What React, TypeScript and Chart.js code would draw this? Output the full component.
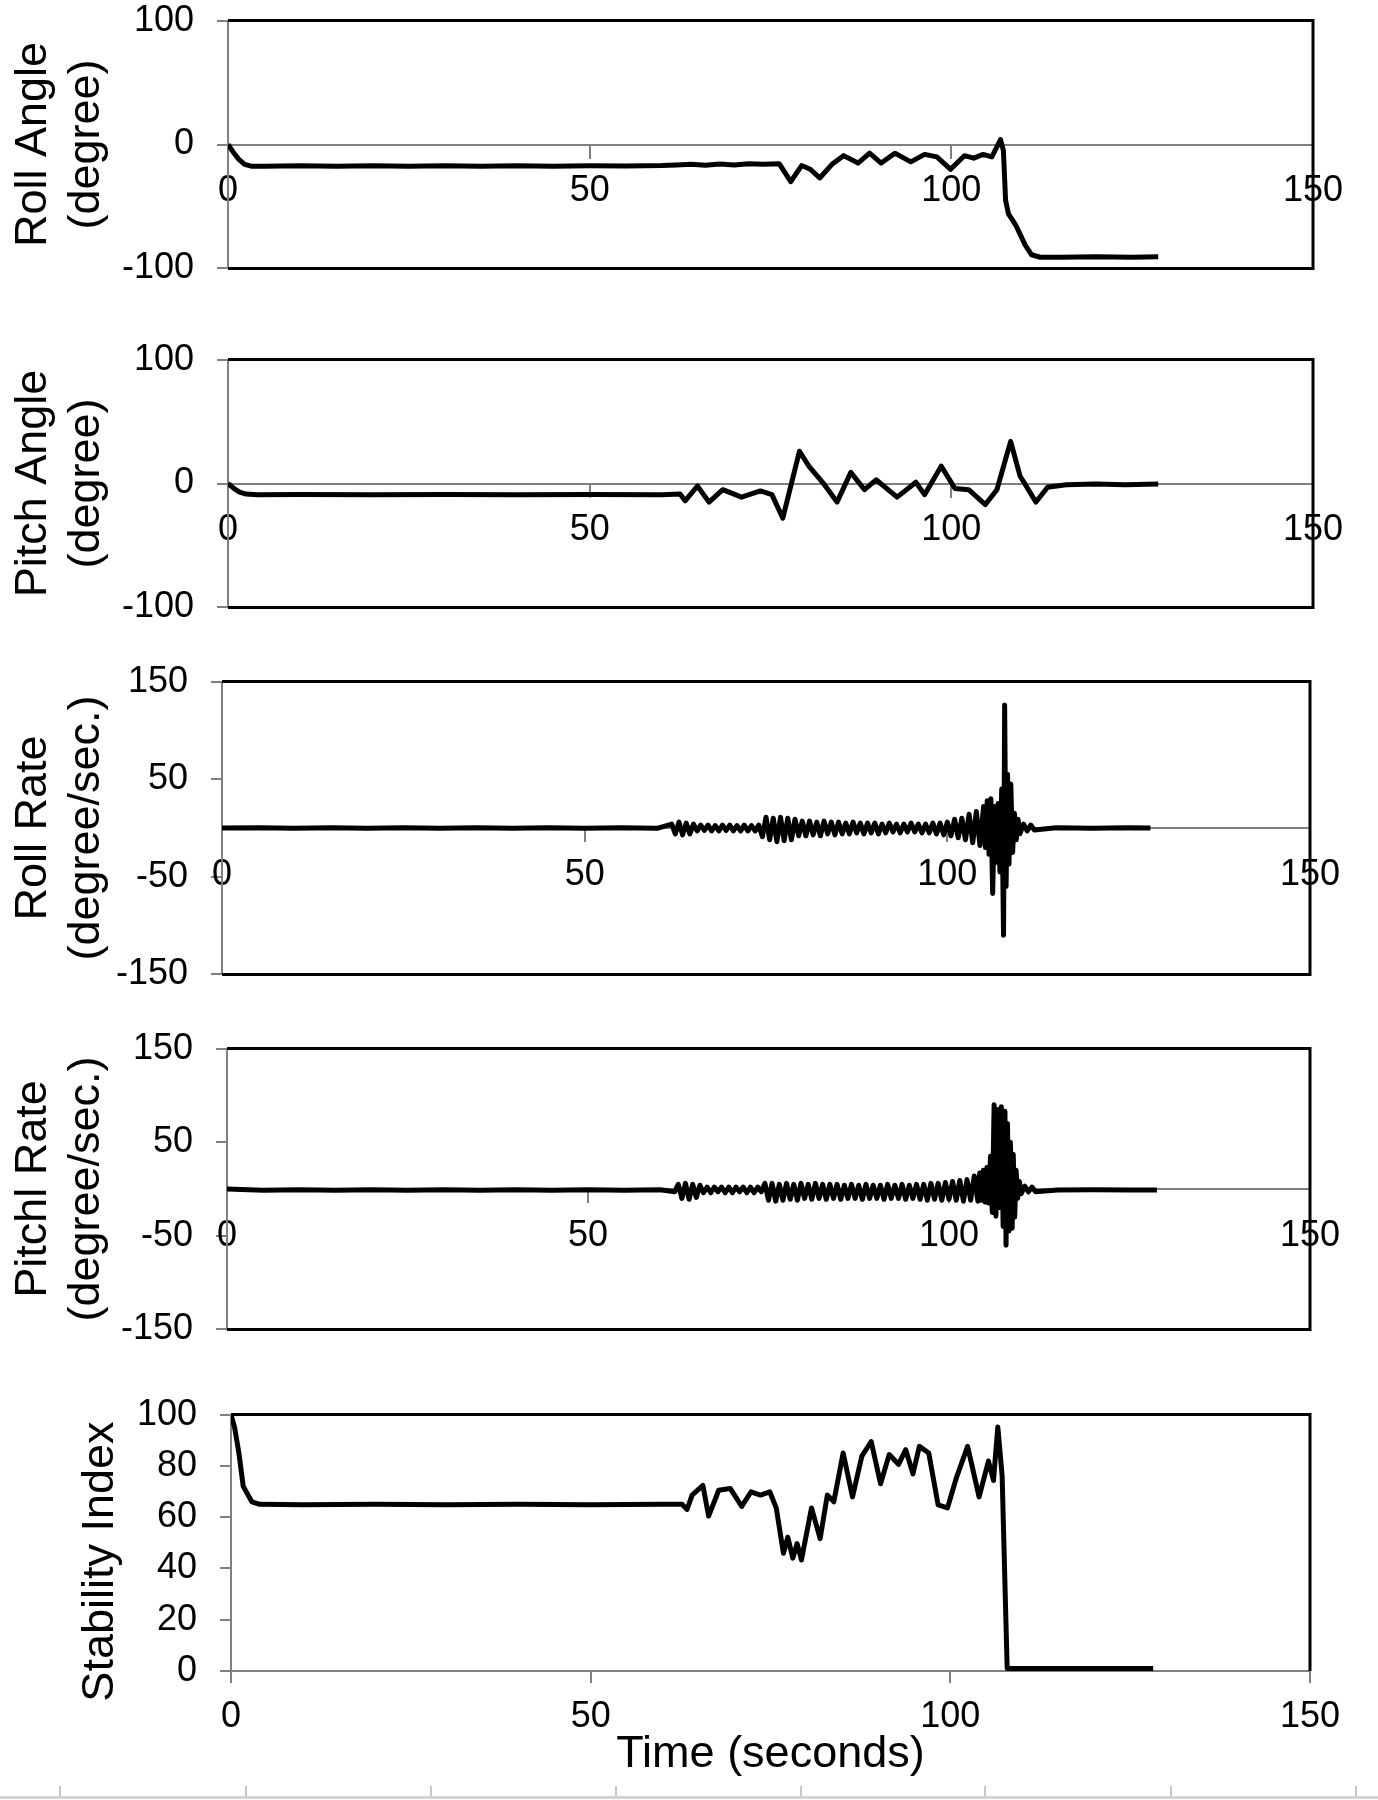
import React, { useEffect, useRef } from 'react';
import { Chart, registerables } from 'chart.js';

Chart.register(...registerables);

// ---------- data ----------
const X_TICKS = [0, 50, 100, 150];
const ANGLE_TICKS = [-100, 0, 100];
const RATE_TICKS = [-150, -50, 50, 150];
const INDEX_TICKS = [0, 20, 40, 60, 80, 100];

const TITLE_ROLL_ANGLE = ['Roll Angle', '(degree)'];
const TITLE_PITCH_ANGLE = ['Pitch Angle', '(degree)'];
const TITLE_ROLL_RATE = ['Roll Rate', '(degree/sec.)'];
const TITLE_PITCH_RATE = ['Pitchl Rate', '(degree/sec.)'];
const TITLE_INDEX = 'Stability Index   ';
const TITLE_TIME = 'Time (seconds)';

const ROLL_ANGLE: number[][] = [
  [0, 0], [0.7, -6], [1.5, -12], [2.3, -16], [3.2, -17.5], [5, -17.5], [10, -17.2], [15, -17.6], [20, -17.2],
  [25, -17.6], [30, -17.2], [35, -17.6], [40, -17.2], [45, -17.6], [50, -17.2], [55, -17.4], [60, -17],
  [62, -16.5], [64, -16], [66, -16.8], [68, -15.8], [70, -16.5], [72, -15.5], [74, -16], [76.2, -15.5],
  [77.8, -30], [79.3, -17], [80.5, -20], [81.8, -27], [83.5, -16], [85.1, -9], [87.1, -15], [88.7, -7],
  [90.3, -15], [92.2, -7], [94.4, -14], [96.3, -8], [98, -10], [99.9, -20], [101.8, -9], [103.1, -11],
  [104.4, -8], [105.6, -10], [106.8, 4], [107.2, -5], [107.5, -45], [107.9, -56], [108.9, -65],
  [110.2, -81], [111.1, -89], [112.3, -91], [115, -91], [120, -90.5], [125, -91], [128.6, -90.5],
];

const PITCH_ANGLE: number[][] = [
  [0, 0], [0.8, -4], [1.6, -7], [2.5, -8.5], [4, -9], [10, -8.8], [20, -9], [30, -8.8], [40, -9], [50, -8.8],
  [60, -9], [62.5, -8.5], [63.2, -14], [64.9, -2], [66.5, -15], [68.4, -5], [71, -11], [73.6, -6],
  [75.2, -9], [76.7, -28], [79, 26], [80.3, 14], [82.2, 1], [84.2, -15], [86.1, 9], [88, -5], [89.6, 3],
  [92.5, -11], [95.1, 1], [96.3, -9], [98.6, 14], [100.5, -4], [102.4, -5], [104.7, -17], [106.3, -5],
  [108.2, 34], [109.5, 6], [111.7, -15], [113.3, -3], [115.9, -1], [120, -0.5], [124, -1], [128.6, -0.5],
];

const ROLL_RATE: number[][] = [
  [0, 0], [5, 0.3], [10, -0.3], [15, 0.3], [20, -0.3], [25, 0.3], [30, -0.3], [35, 0.3], [40, -0.3],
  [45, 0.3], [50, -0.3], [55, 0.3], [60, -0.3],
  [62, 4], [62.5, -6], [63, 6], [63.5, -7], [64, 5], [64.5, -6], [65, 4],
  [65.5, -3], [66, 3], [66.5, -2.5], [67, 3], [67.5, -3], [68, 2.5], [68.5, -3], [69, 3], [69.5, -2.5],
  [70, 3], [70.5, -3], [71, 2.5], [71.5, -3], [72, 3], [72.5, -3], [73, 2.5], [73.5, -3], [74, 3],
  [74.5, -9], [75, 11], [75.5, -12], [76, 10], [76.5, -14], [77, 11], [77.5, -13], [78, 10], [78.5, -12], [79, 9],
  [79.5, -8], [80, 7], [80.5, -8], [81, 7], [81.5, -7], [82, 6], [82.5, -8], [83, 7], [83.5, -6], [84, 6],
  [84.5, -7], [85, 6], [85.5, -6], [86, 5], [86.5, -6], [87, 6], [87.5, -5], [88, 5], [88.5, -6], [89, 5],
  [89.5, -5], [90, 5], [90.5, -6], [91, 4], [91.5, -5], [92, 5], [92.5, -4], [93, 4], [93.5, -5], [94, 4],
  [94.5, -4], [95, 5], [95.5, -4], [96, 4], [96.5, -5], [97, 4], [97.5, -5], [98, 5], [98.5, -6], [99, 5],
  [99.5, -7], [100, 6], [100.5, -8], [101, 9], [101.5, -10], [102, 10], [102.5, -12], [103, 14],
  [103.5, -15], [104, 17], [104.5, -18], [105, 22], [105.25, -20], [105.5, 28], [105.75, -27], [106, 30],
  [106.25, -67], [106.5, 22], [106.75, -35], [107, 25], [107.25, -45], [107.5, 40], [107.75, -110],
  [107.9, 126], [108.1, -60], [108.3, 55], [108.5, -37], [108.75, 45], [109, -25], [109.25, 15],
  [109.5, -12], [109.75, 9], [110, -6], [110.5, 4], [111, -3], [111.5, 3], [112, -2],
  [115, 0.3], [120, -0.3], [125, 0.3], [128, 0],
];

const PITCH_RATE: number[][] = [
  [0, 0], [5, -1.3], [10, -0.7], [15, -1.3], [20, -0.7], [25, -1.3], [30, -0.7], [35, -1.3], [40, -0.7],
  [45, -1.3], [50, -0.7], [55, -1.3], [60, -0.7],
  [62, -3], [62.5, 5], [63, -10], [63.5, 6], [64, -11], [64.5, 5], [65, -9], [65.5, 4],
  [66, -4], [66.5, 2], [67, -4], [67.5, 2], [68, -3], [68.5, 2], [69, -4], [69.5, 2], [70, -4], [70.5, 2],
  [71, -3], [71.5, 2], [72, -4], [72.5, 2], [73, -4], [73.5, 2], [74, -3],
  [74.5, 6], [75, -12], [75.5, 6], [76, -13], [76.5, 5], [77, -12], [77.5, 6], [78, -11], [78.5, 5],
  [79, -12], [79.5, 6], [80, -10], [80.5, 5], [81, -11], [81.5, 6], [82, -10], [82.5, 5], [83, -11],
  [83.5, 5], [84, -10], [84.5, 5], [85, -11], [85.5, 4], [86, -10], [86.5, 5], [87, -10], [87.5, 4],
  [88, -11], [88.5, 5], [89, -10], [89.5, 4], [90, -10], [90.5, 4], [91, -11], [91.5, 5], [92, -10],
  [92.5, 4], [93, -10], [93.5, 5], [94, -11], [94.5, 4], [95, -10], [95.5, 5], [96, -11], [96.5, 5],
  [97, -12], [97.5, 6], [98, -11], [98.5, 6], [99, -12], [99.5, 7], [100, -11], [100.5, 8], [101, -12],
  [101.5, 9], [102, -13], [102.5, 10], [103, -12], [103.5, 14], [104, -13], [104.25, 17], [104.5, -12],
  [104.75, 20], [105, -14], [105.25, 23], [105.5, -15], [105.75, 35], [106, -25], [106.25, 90],
  [106.5, -29], [106.75, 85], [107, -20], [107.25, 88], [107.5, -40], [107.75, 83], [107.9, -60],
  [108.1, 70], [108.3, -45], [108.5, 50], [108.75, -42], [108.9, 37], [109.1, -30], [109.3, 20],
  [109.5, -10], [109.75, 8], [110, -5], [110.5, 3], [111, -3], [111.5, 2], [112, -3],
  [115, -1], [120, -0.7], [125, -1.2], [128.8, -1],
];

const STABILITY_INDEX: number[][] = [
  [0, 100], [0.5, 95], [1.1, 85], [1.7, 72], [2.9, 66], [4, 65], [10, 64.8], [20, 65], [30, 64.8],
  [40, 65], [50, 64.8], [60, 65], [62.7, 65], [63.4, 63], [64.1, 68.6], [65.6, 72.4], [66.4, 60.4],
  [67.8, 70.5], [69.4, 71.2], [71, 64.2], [72.3, 69.9], [73.6, 68.6], [74.9, 69.9], [75.8, 63.6],
  [76.8, 45.9], [77.4, 52.2], [78.1, 44], [78.7, 49.7], [79.3, 43.3], [80.7, 63.6], [81.9, 51.6],
  [82.9, 68.6], [83.8, 66], [85.1, 85], [86.4, 67.9], [87.7, 83.8], [89, 89.5], [90.3, 73], [91.5, 84.4],
  [92.8, 80.6], [93.8, 86.3], [94.8, 76.9], [95.7, 87.6], [97, 85], [98.3, 64.8], [99.6, 63.6],
  [100.8, 75], [102.4, 87.6], [104, 67.9], [105.3, 81.9], [106, 74.3], [106.6, 95.2], [107.2, 76.2],
  [107.9, 1], [115, 1], [128.2, 1],
];

// ---------- styling ----------
const FONT = "'Liberation Sans', Arial, Helvetica, sans-serif";
const GRAY = '#808080';
const PAGE_W = 1378;

type PanelCfg = {
  data: number[][];
  yMin: number;
  yMax: number;
  yTicks: number[];
  title: string | string[];
  titlePad: number;
  titleLineHeight: number;
  plotTop: number;
  plotBottom: number;
  leftX: number;
  rightX: number;
  bottomAxis: boolean;
};

const PANELS: PanelCfg[] = [
  { data: ROLL_ANGLE, yMin: -100, yMax: 100, yTicks: ANGLE_TICKS, title: TITLE_ROLL_ANGLE, titlePad: 7, titleLineHeight: 1.18, plotTop: 16, plotBottom: 273, leftX: 228, rightX: 1313, bottomAxis: false },
  { data: PITCH_ANGLE, yMin: -100, yMax: 100, yTicks: ANGLE_TICKS, title: TITLE_PITCH_ANGLE, titlePad: 7, titleLineHeight: 1.18, plotTop: 355, plotBottom: 612, leftX: 228, rightX: 1313, bottomAxis: false },
  { data: ROLL_RATE, yMin: -150, yMax: 150, yTicks: RATE_TICKS, title: TITLE_ROLL_RATE, titlePad: 7, titleLineHeight: 1.18, plotTop: 677, plotBottom: 979, leftX: 222, rightX: 1310, bottomAxis: false },
  { data: PITCH_RATE, yMin: -150, yMax: 150, yTicks: RATE_TICKS, title: TITLE_PITCH_RATE, titlePad: 7, titleLineHeight: 1.18, plotTop: 1044, plotBottom: 1334, leftX: 227, rightX: 1310, bottomAxis: false },
  { data: STABILITY_INDEX, yMin: 0, yMax: 100, yTicks: INDEX_TICKS, title: TITLE_INDEX, titlePad: 74, titleLineHeight: 1.2, plotTop: 1407, plotBottom: 1671, leftX: 231, rightX: 1310, bottomAxis: true },
];

const framePlugin = {
  id: 'frame',
  beforeDatasetsDraw(chart: any, _args: any, opts: any) {
    const { ctx, chartArea } = chart;
    const { left, right, top, bottom } = chartArea;
    ctx.save();
    ctx.strokeStyle = '#000';
    ctx.lineWidth = 3;
    ctx.beginPath();
    ctx.moveTo(left, top);
    ctx.lineTo(right, top);
    ctx.lineTo(right, bottom);
    if (opts && opts.closeBottom) ctx.lineTo(left, bottom);
    ctx.stroke();
    ctx.restore();
  },
};

function geometry(p: PanelCfg) {
  if (p.bottomAxis) {
    const canvasTop = p.plotTop - 37;
    return { canvasTop, canvasH: 1800 - canvasTop, padTop: 37, padBottom: 18 };
  }
  const canvasTop = p.plotTop - 40;
  return { canvasTop, canvasH: p.plotBottom - p.plotTop + 80, padTop: 40, padBottom: 40 };
}

function Panel({ p }: { p: PanelCfg }) {
  const ref = useRef<HTMLCanvasElement | null>(null);
  const g = geometry(p);
  useEffect(() => {
    if (!ref.current) return;
    const chart = new Chart(ref.current, {
      type: 'line',
      data: {
        datasets: [
          {
            data: p.data.map(([x, y]) => ({ x, y })),
            borderColor: '#000',
            borderWidth: 5,
            pointRadius: 0,
            tension: 0,
            fill: false,
            borderJoinStyle: 'round',
          },
        ],
      },
      options: {
        animation: false,
        responsive: false,
        maintainAspectRatio: false,
        devicePixelRatio: 1,
        events: [],
        layout: { padding: { left: 0, right: PAGE_W - p.rightX, top: g.padTop, bottom: g.padBottom } },
        plugins: {
          legend: { display: false },
          tooltip: { enabled: false },
          frame: { closeBottom: !p.bottomAxis },
        } as any,
        scales: {
          x: {
            type: 'linear',
            min: 0,
            max: 150,
            position: p.bottomAxis ? 'bottom' : ({ y: 0 } as any),
            afterBuildTicks: (s: any) => {
              s.ticks = X_TICKS.map((v) => ({ value: v }));
            },
            afterFit: (s: any) => {
              if (p.bottomAxis) s.height = 111;
            },
            ticks: {
              font: { family: FONT, size: 36 },
              color: '#000',
              padding: 12,
              maxRotation: 0,
              autoSkip: false,
            },
            grid: { drawOnChartArea: false, drawTicks: true, tickLength: p.bottomAxis ? 12 : 13, color: GRAY, lineWidth: 2 },
            border: { display: true, color: GRAY, width: 2 },
            title: {
              display: p.bottomAxis,
              text: TITLE_TIME,
              color: '#000',
              font: { family: FONT, size: 45 },
              padding: 0,
            },
          },
          y: {
            type: 'linear',
            min: p.yMin,
            max: p.yMax,
            position: 'left',
            afterBuildTicks: (s: any) => {
              s.ticks = p.yTicks.map((v) => ({ value: v }));
            },
            afterFit: (s: any) => {
              s.width = p.leftX;
            },
            ticks: { font: { family: FONT, size: 36 }, color: '#000', padding: 23, autoSkip: false },
            grid: { drawOnChartArea: false, drawTicks: true, tickLength: 11, color: GRAY, lineWidth: 2 },
            border: { display: true, color: GRAY, width: 2 },
            title: {
              display: true,
              text: p.title,
              color: '#000',
              font: { family: FONT, size: 45, lineHeight: p.titleLineHeight },
              padding: { top: p.titlePad, bottom: 0 },
            },
          },
        },
      } as any,
      plugins: [framePlugin],
    });
    return () => chart.destroy();
  }, []);
  return (
    <canvas
      ref={ref}
      width={PAGE_W}
      height={g.canvasH}
      style={{ position: 'absolute', left: 0, top: g.canvasTop, width: PAGE_W, height: g.canvasH }}
    />
  );
}

const RULER_TICKS = [59, 245, 430, 615, 800, 984, 1170, 1355];

export default function App() {
  return (
    <div style={{ position: 'absolute', left: 0, top: 0, width: PAGE_W, height: 1800, background: '#fff', overflow: 'hidden' }}>
      {PANELS.map((p, i) => (
        <Panel key={i} p={p} />
      ))}
      <div style={{ position: 'absolute', left: 0, top: 1796, width: PAGE_W, height: 3, background: '#d4d4d4' }} />
      {RULER_TICKS.map((x, i) => (
        <div key={'t' + i} style={{ position: 'absolute', left: x, top: 1786, width: 2, height: 11, background: '#c8c8c8' }} />
      ))}
    </div>
  );
}
